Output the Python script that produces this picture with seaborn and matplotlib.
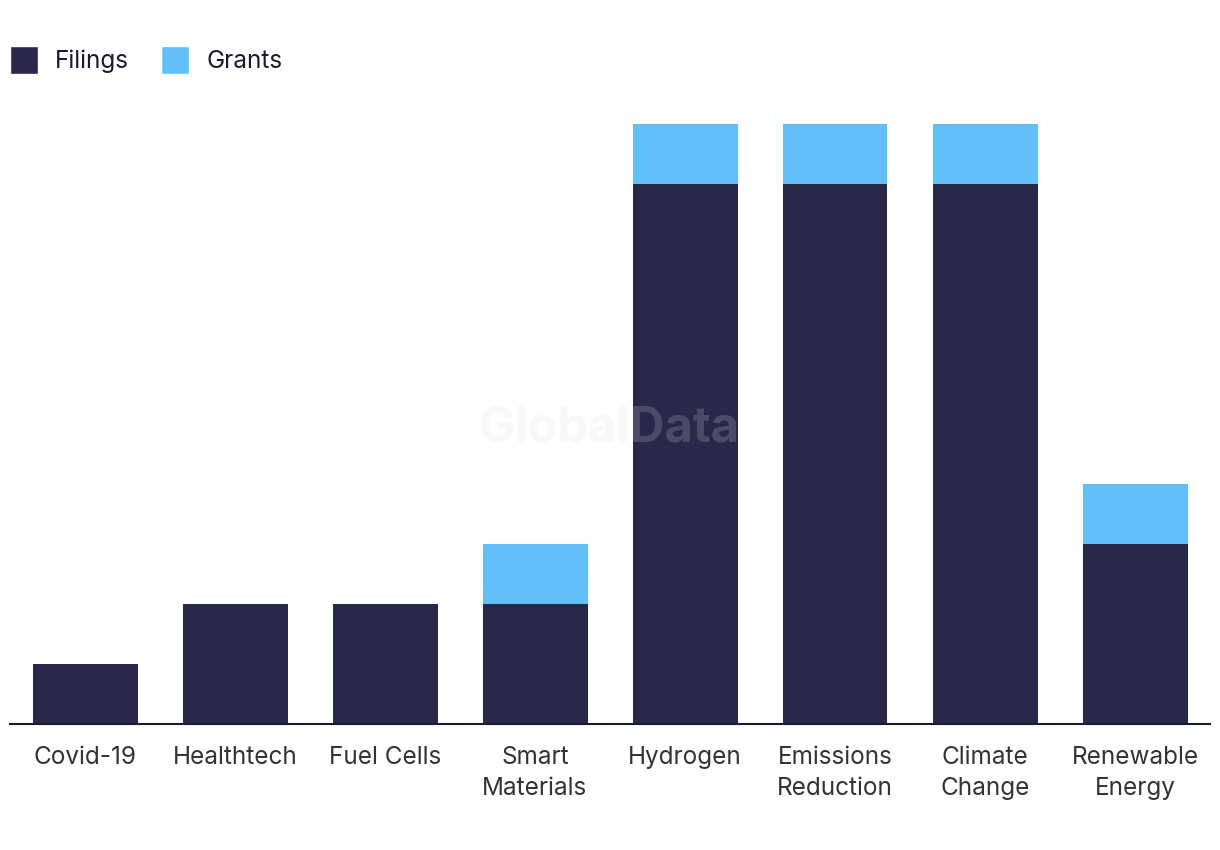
import matplotlib
matplotlib.use("Agg")
import matplotlib.pyplot as plt
import seaborn as sns
import pandas as pd
from matplotlib.patches import Patch

categories = ["Covid-19", "Healthtech", "Fuel Cells", "Smart\nMaterials", "Hydrogen",
              "Emissions\nReduction", "Climate\nChange", "Renewable\nEnergy"]
filings = [1, 2, 2, 2, 9, 9, 9, 3]
grants = [0, 0, 0, 1, 1, 1, 1, 1]

navy = "#28284a"
blue = "#62c0f8"

sns.set_theme(style="white")
plt.rcParams['font.family'] = ['Inter', 'DejaVu Sans']

df = pd.DataFrame({"category": categories, "filings": filings, "grants": grants})
df["total"] = df["filings"] + df["grants"]

fig = plt.figure(figsize=(12.2, 8.5), dpi=100)
ax = fig.add_axes([10/1220, 126/850, 1200/1220, 600/850])

sns.barplot(data=df, x="category", y="total", color=blue, width=0.7, saturation=1,
            linewidth=0, ax=ax)
sns.barplot(data=df, x="category", y="filings", color=navy, width=0.7, saturation=1,
            linewidth=0, ax=ax)

ax.set_xlim(-0.5, 7.5)
ax.set_ylim(0, 10)
ax.set_xlabel("")
ax.set_ylabel("")
ax.set_yticks([])
for s in ["top", "right", "left"]:
    ax.spines[s].set_visible(False)
ax.spines["bottom"].set_color("#1a1a2e")
ax.spines["bottom"].set_linewidth(1.5)
ax.tick_params(axis="x", length=0, pad=15.5, labelsize=17.5, labelcolor="#333333")
for lbl in ax.get_xticklabels():
    lbl.set_linespacing(1.45)

handles = [Patch(facecolor=navy, label="Filings"), Patch(facecolor=blue, label="Grants")]
fig.legend(handles=handles, loc="upper left", bbox_to_anchor=(10/1220, 1 - 46/850),
           ncol=2, frameon=False, fontsize=17.5, handlelength=1.16, handleheight=1.4,
           handletextpad=0.7, columnspacing=1.3, borderpad=0, borderaxespad=0,
           labelcolor="#1a1a2e")

fig.text(609/1220, 1 - 428/850, "GlobalData", ha="center", va="center", fontsize=35,
         fontweight="bold", color="#dcdcdc", alpha=0.2, zorder=10)

fig.savefig("out.png", dpi=100)
